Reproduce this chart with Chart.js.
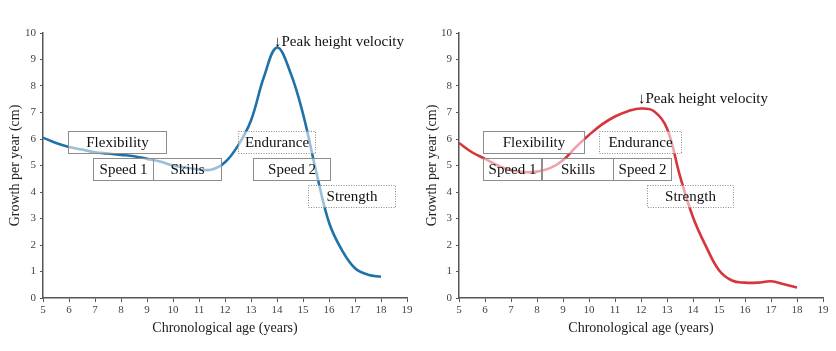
<!DOCTYPE html>
<html>
<head>
<meta charset="utf-8">
<script src="https://cdn.jsdelivr.net/npm/chart.js@4.4.1/dist/chart.umd.min.js"></script>
<style>
  html, body { margin: 0; padding: 0; background: #fff; }
  .wrap { position: absolute; top: 0; width: 418px; height: 351px; }
</style>
</head>
<body>
<div class="wrap" style="left:0"><canvas id="c1" width="418" height="351"></canvas></div>
<div class="wrap" style="left:418px"><canvas id="c2" width="418" height="351"></canvas></div>
<script>
// ---- data ----
const ages = [5,5.5,6,6.5,7,7.5,8,8.5,9,9.5,10,10.5,11,11.5,12,12.5,13,13.5,14,14.5,15,15.5,16,16.5,17,17.5,18];
const boysGrowth = [6.05,5.85,5.7,5.6,5.5,5.45,5.4,5.35,5.25,5.15,5.0,4.92,4.85,4.85,5.12,5.75,6.7,8.35,9.45,8.55,6.95,4.8,2.85,1.8,1.12,0.88,0.8];
const girlsGrowth = [5.85,5.5,5.25,5.0,4.82,4.75,4.77,4.9,5.2,5.7,6.15,6.55,6.85,7.05,7.15,7.05,6.4,4.6,3.05,1.95,1.05,0.66,0.58,0.58,0.63,0.52,0.4];
const xTicks = [5,6,7,8,9,10,11,12,13,14,15,16,17,18,19];
const yTicks = [0,1,2,3,4,5,6,7,8,9,10];
const peakLabel = "↓Peak height velocity";
const boysPeak = [14, 9.45];
const girlsPeak = [12, 7.15];
// phase windows: [name, startAge, endAge, row, dotted]
const boysPhases = [
  ["Flexibility", 5.96, 9.73, 0, false],
  ["Speed 1", 6.91, 9.22, 1, false],
  ["Skills", 9.22, 11.86, 1, false],
  ["Endurance", 12.5, 15.45, 0, true],
  ["Speed 2", 13.06, 16.02, 1, false],
  ["Strength", 15.2, 18.55, 2, true]
];
const girlsPhases = [
  ["Flexibility", 5.94, 9.79, 0, false],
  ["Speed 1", 5.94, 8.15, 1, false],
  ["Skills", 8.21, 10.91, 1, false],
  ["Speed 2", 10.94, 13.14, 1, false],
  ["Endurance", 10.39, 13.53, 0, true],
  ["Strength", 12.22, 15.55, 2, true]
];
// row bands in growth units (top, bottom)
const rowBands = [[6.3, 5.47], [5.28, 4.46], [4.27, 3.42]];

const serif = "'Liberation Serif', 'Times New Roman', serif";

const overlay = {
  id: 'overlay',
  afterDatasetsDraw(chart, args, opts) {
    const ctx = chart.ctx;
    const xs = chart.scales.x, ys = chart.scales.y;
    ctx.save();
    opts.phases.forEach(p => {
      const [name, a0, a1, row, dotted] = p;
      const x0 = Math.round(xs.getPixelForValue(a0)) + 0.5;
      const x1 = Math.round(xs.getPixelForValue(a1)) + 0.5;
      const y0 = Math.round(ys.getPixelForValue(rowBands[row][0])) + 0.5;
      const y1 = Math.round(ys.getPixelForValue(rowBands[row][1])) + 0.5;
      ctx.fillStyle = 'rgba(255,255,255,0.55)';
      ctx.fillRect(x0, y0, x1 - x0, y1 - y0);
      ctx.lineWidth = 1;
      ctx.strokeStyle = dotted ? '#8a8a8a' : '#8c8c8c';
      ctx.setLineDash(dotted ? [1, 1.5] : []);
      ctx.strokeRect(x0, y0, x1 - x0, y1 - y0);
      ctx.setLineDash([]);
      ctx.fillStyle = '#111';
      ctx.font = '15px ' + serif;
      ctx.textAlign = 'center';
      ctx.textBaseline = 'middle';
      ctx.fillText(name, (x0 + x1) / 2, (y0 + y1) / 2 + 1);
    });
    const px = xs.getPixelForValue(opts.peak[0]);
    const py = ys.getPixelForValue(opts.peak[1]);
    ctx.fillStyle = '#111';
    ctx.font = '15px ' + serif;
    ctx.textAlign = 'left';
    ctx.textBaseline = 'middle';
    ctx.fillText(peakLabel, px - 3, py - opts.peakOffset);
    ctx.restore();
  }
};

function makeChart(id, values, color, phases, peak, peakOffset, yWidth, padRight, yTitleX) {
  return new Chart(document.getElementById(id), {
    type: 'line',
    data: {
      datasets: [{
        data: ages.map((a, i) => ({ x: a, y: values[i] })),
        borderColor: color,
        borderWidth: 2.6,
        pointRadius: 0,
        tension: 0.4,
        fill: false
      }]
    },
    options: {
      responsive: false,
      animation: false,
      events: [],
      layout: { padding: { left: 0, top: 33, right: padRight, bottom: 0 } },
      plugins: {
        legend: { display: false },
        tooltip: { enabled: false },
        overlay: { phases: phases, peak: peak, peakOffset: peakOffset }
      },
      scales: {
        x: {
          type: 'linear', min: 5, max: 19,
          afterBuildTicks: s => { s.ticks = xTicks.map(v => ({ value: v })); },
          afterFit: s => { s.height = 53; },
          grid: { display: true, drawOnChartArea: false, drawTicks: true, tickLength: 4, color: '#555', lineWidth: 1 },
          border: { display: true, color: '#555', width: 1.5 },
          ticks: { color: '#444', font: { family: serif, size: 11 }, padding: 2, maxRotation: 0, autoSkip: false },
          title: { display: true, text: 'Chronological age (years)', color: '#222', font: { family: serif, size: 14 }, padding: { top: 2, bottom: 14 } }
        },
        y: {
          min: 0, max: 10,
          afterBuildTicks: s => { s.ticks = yTicks.map(v => ({ value: v })); },
          afterFit: s => { s.width = yWidth; },
          grid: { display: true, drawOnChartArea: false, drawTicks: true, tickLength: 3, color: '#555', lineWidth: 1 },
          border: { display: true, color: '#555', width: 1.5 },
          ticks: { color: '#444', font: { family: serif, size: 11 }, padding: 4 },
          title: { display: true, text: 'Growth per year (cm)', color: '#222', font: { family: serif, size: 14 }, padding: { top: yTitleX, bottom: 0 } }
        }
      }
    },
    plugins: [overlay]
  });
}

makeChart('c1', boysGrowth, '#1f72a8', boysPhases, boysPeak, 6, 43, 11, 7);
makeChart('c2', girlsGrowth, '#d8343c', girlsPhases, girlsPeak, 9, 41, 13, 6);
</script>
</body>
</html>
